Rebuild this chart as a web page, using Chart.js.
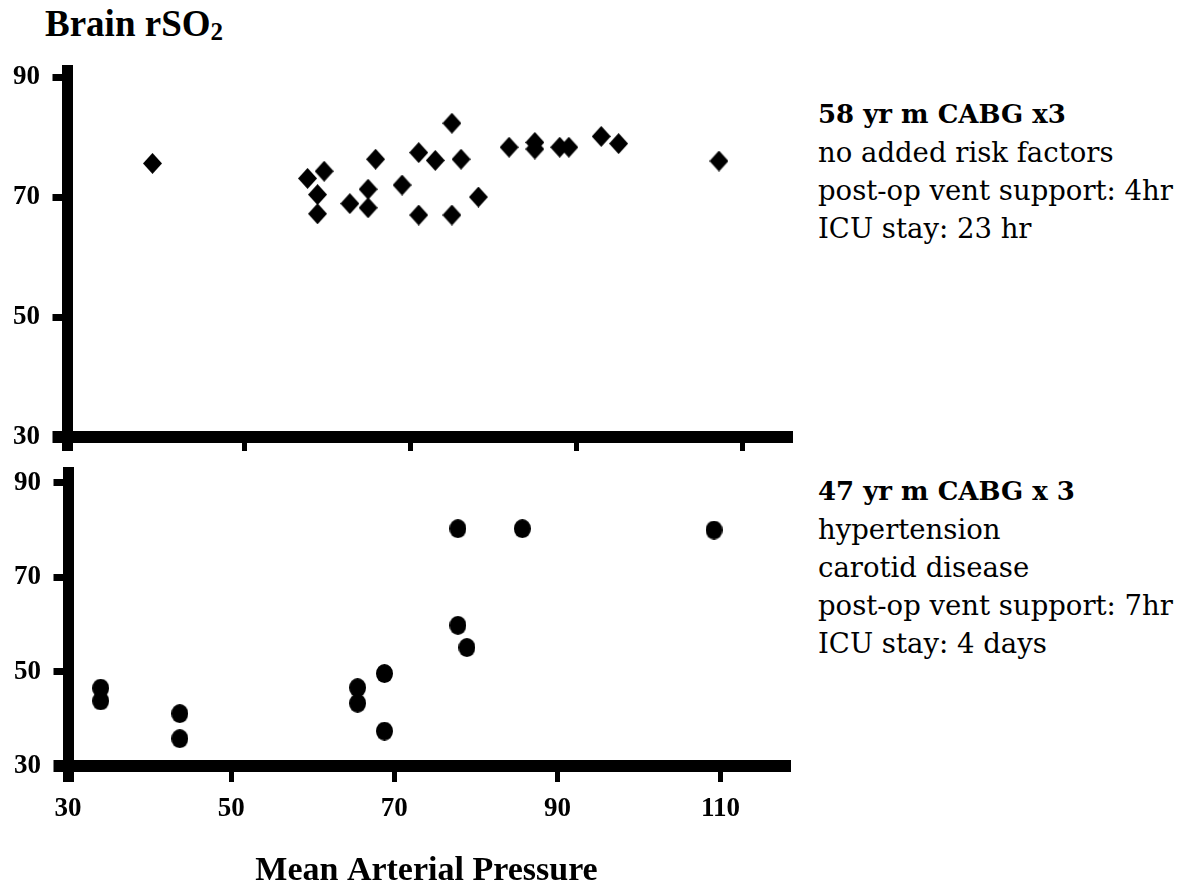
<!DOCTYPE html>
<html>
<head>
<meta charset="utf-8">
<title>Brain rSO2 vs Mean Arterial Pressure</title>
<script src="https://cdn.jsdelivr.net/npm/chart.js"></script>
<style>
  html, body { margin: 0; padding: 0; background: #fff; overflow: hidden; }
  body { width: 1190px; height: 886px; position: relative; color: #000; }
  #title { position: absolute; left: 45px; top: 5px; font: bold 37px "Liberation Serif"; line-height: 37px; white-space: nowrap; }
  #title span { font-size: 25px; position: relative; top: 4px; }
  .note { position: absolute; left: 818px; font: 27.5px "DejaVu Serif"; white-space: nowrap; }
  .note div { line-height: 38px; height: 38px; }
  .note .head { font-weight: bold; font-size: 26px; }
  canvas { position: absolute; left: 0; }
</style>
</head>
<body>
<div id="title">Brain rSO<span>2</span></div>

<div class="note" style="top:95px">
  <div class="head">58 yr m CABG x3</div>
  <div>no added risk factors</div>
  <div>post-op vent support: 4hr</div>
  <div>ICU stay: 23 hr</div>
</div>

<div class="note" style="top:472px">
  <div class="head">47 yr m CABG x 3</div>
  <div>hypertension</div>
  <div>carotid disease</div>
  <div>post-op vent support: 7hr</div>
  <div>ICU stay: 4 days</div>
</div>

<canvas id="topChart" width="800" height="470" style="top:0"></canvas>
<canvas id="bottomChart" width="800" height="446" style="top:440px"></canvas>

<script>
// tick values
const yTicks = [30, 50, 70, 90];
const topXTicks = [50, 70, 90, 110];
const bottomXTicks = [30, 50, 70, 90, 110];

// 58 yr m, CABG x3 (diamonds)
const topMAP  = [38.9, 57.6, 59.6, 58.8, 58.8, 62.7, 64.9, 64.9, 65.8, 69.0, 71.0, 73.0, 75.0,
                 76.1, 71.0, 75.0, 78.2, 81.9, 85.0, 85.0, 88.0, 89.1, 93.0, 95.1, 107.2];
const topRSO2 = [75.6, 73.1, 74.3, 70.4, 67.2, 68.9, 71.3, 68.2, 76.3, 72.0, 77.4, 76.1, 82.3,
                 76.3, 67.0, 67.0, 70.0, 78.3, 79.1, 78.0, 78.3, 78.3, 80.1, 78.9, 76.0];

// 47 yr m, CABG x 3 (dots)
const bottomMAP  = [34.0, 34.0, 43.7, 43.7, 65.5, 65.5, 68.8, 68.8, 77.8, 78.9, 77.8, 85.7, 109.2];
const bottomRSO2 = [46.5, 43.8, 41.1, 35.8, 46.6, 43.3, 49.6, 37.4, 59.8, 55.1, 80.3, 80.3, 80.0];

function marker(w, h, shape) {
    var c = document.createElement('canvas');
    c.width = w;
    c.height = h;
    var g = c.getContext('2d');
    g.fillStyle = '#000';
    g.beginPath();
    if (shape === 'diamond') {
        g.moveTo(w / 2, 0);
        g.lineTo(w, h / 2);
        g.lineTo(w / 2, h);
        g.lineTo(0, h / 2);
        g.closePath();
    } else {
        g.ellipse(w / 2, h / 2, w / 2, h / 2, 0, 0, Math.PI * 2);
    }
    g.fill();
    return c;
}

var tickFont = {family: 'Liberation Serif', weight: 'bold', size: 27};

function panel(id, cfg) {
    return new Chart(document.getElementById(id), {
        type: 'scatter',
        data: {
            datasets: [{
                data: cfg.x.map(function (v, i) { return {x: v, y: cfg.y[i]}; }),
                pointStyle: cfg.marker,
                backgroundColor: '#000',
                borderWidth: 0
            }]
        },
        options: {
            responsive: false,
            animation: false,
            layout: {padding: cfg.padding},
            plugins: {legend: {display: false}, tooltip: {enabled: false}},
            scales: {
                x: {
                    type: 'linear',
                    min: cfg.xMin,
                    max: cfg.xMax,
                    afterBuildTicks: function (axis) {
                        axis.ticks = cfg.xTicks.map(function (v) { return {value: v}; });
                    },
                    afterFit: function (scale) { scale.height = cfg.xHeight; },
                    border: {color: '#000', width: 12},
                    grid: {
                        drawOnChartArea: false,
                        color: '#000',
                        tickLength: cfg.xTickLen,
                        lineWidth: function (c) { return c.index === 0 ? 11 : 5; },
                        tickWidth: function (c) { return c.index === 0 ? 11 : 5; }
                    },
                    ticks: {
                        color: '#000',
                        font: tickFont,
                        padding: 11,
                        maxRotation: 0,
                        callback: cfg.xLabels ? function (v) { return v; } : function () { return ''; }
                    },
                    title: cfg.xTitle ? {
                        display: true,
                        text: cfg.xTitle,
                        color: '#000',
                        padding: 0,
                        font: {family: 'Liberation Serif', weight: 'bold', size: 34, lineHeight: 0.85}
                    } : {display: false}
                },
                y: {
                    type: 'linear',
                    min: 30,
                    max: cfg.yMax,
                    afterBuildTicks: function (axis) {
                        axis.ticks = yTicks.map(function (v) { return {value: v}; });
                    },
                    afterFit: function (scale) { scale.width = cfg.yWidth; },
                    border: {color: '#000', width: 11},
                    grid: {
                        drawOnChartArea: false,
                        color: '#000',
                        tickLength: 14.5,
                        lineWidth: function (c) { return c.index === 0 ? 12 : 7; },
                        tickWidth: function (c) { return c.index === 0 ? 12 : 7; }
                    },
                    ticks: {color: '#000', font: tickFont, padding: 12.5}
                }
            }
        }
    });
}

panel('topChart', {
    x: topMAP, y: topRSO2,
    marker: marker(19, 21, 'diamond'),
    xMin: 28.6, xMax: 115.4,
    xTicks: [28.6].concat(topXTicks),
    xLabels: false,
    xTickLen: 14,
    xHeight: 33,
    yMax: 91.17,
    yWidth: 67,
    padding: {top: 70, right: 13, left: 0, bottom: 0}
});

panel('bottomChart', {
    x: bottomMAP, y: bottomRSO2,
    marker: marker(17, 19, 'dot'),
    xMin: 30, xMax: 117.9,
    xTicks: bottomXTicks,
    xLabels: true,
    xTickLen: 16,
    xHeight: 120,
    xTitle: 'Mean Arterial Pressure',
    yMax: 92.3,
    yWidth: 68,
    padding: {top: 32, right: 15, left: 0, bottom: 0}
});
</script>
</body>
</html>
